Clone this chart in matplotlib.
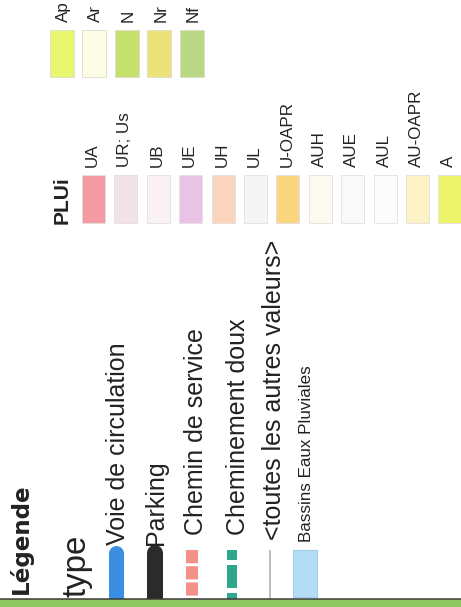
import matplotlib
matplotlib.use("Agg")
import matplotlib.pyplot as plt

plt.rcParams["font.family"] = ["Liberation Sans", "DejaVu Sans"]

# ── Data ─────────────────────────────────────────────────────────────────────
top_labels = ["Ap", "Ar", "N", "Nr", "Nf"]
top_colors = ["#e8f670", "#fdfde6", "#c5e06c", "#ece27a", "#b8d883"]

zone_labels = ["UA", "UR; Us", "UB", "UE", "UH", "UL", "U-OAPR",
               "AUH", "AUE", "AUL", "AU-OAPR", "A"]
zone_colors = ["#f39aa2", "#f1e3e7", "#faf2f2", "#e8c3e6", "#fbd5bd", "#f5f5f8",
               "#fcd67e", "#fcf9ee", "#f9f9f9", "#fcfcfc", "#fdf2c6", "#eef46a"]

type_labels = ["Voie de circulation", "Parking", "Chemin de service",
               "Cheminement doux", "<toutes les autres valeurs>"]
type_colors = ["#3b8fe2", "#2b2b2b", "#f4928a", "#2ea88a", "#a8a8a8"]
type_widths = [15, 16, 12, 10, 1.5]          # px
type_styles = ["-", "-", (0, (1.1, 0.25)), (0, (1.0, 0.5, 2.3, 0.5)), "-"]
type_caps = ["round", "round", "butt", "butt", "butt"]

basin_label = "Bassins Eaux Pluviales"
basin_color = "#b5dcf5"

PX = 72 / 100  # px -> pt at dpi 100
TXT = "#222222"

fig = plt.figure(figsize=(4.61, 6.07), dpi=100, facecolor="white")
ax = fig.add_axes([0, 0, 1, 1])
ax.set_xlim(0, 461)
ax.set_ylim(607, 0)
ax.axis("off")


def vtext(x, y, s, size, weight="normal", family=None):
    ax.text(x, y, s, rotation=90, rotation_mode="anchor", ha="left",
            va="baseline", fontsize=size, fontweight=weight, color=TXT,
            family=family, clip_on=True)


# ── PLUi zones ───────────────────────────────────────────────────────────────
step = 32.4
top_x = [62 + step * i for i in range(len(top_labels))]
ax.bar(top_x, 47, bottom=30, width=24, color=top_colors,
       edgecolor="#dcdcd0", linewidth=0.6)
for i, lab in enumerate(top_labels):
    vtext(68 + step * i, 22, lab, 17 * PX)

vtext(68, 224, "PLUi", 21 * PX, weight="bold")

zone_x = [93.5 + step * i for i in range(len(zone_labels))]
ax.bar(zone_x, 48, bottom=175, width=23, color=zone_colors,
       edgecolor="#e4e0e0", linewidth=0.6)
for i, lab in enumerate(zone_labels):
    vtext(97 + step * i, 167, lab, 17 * PX)

# ── type ─────────────────────────────────────────────────────────────────────
vtext(28, 594, "Légende", 23 * PX, weight="bold", family=["DejaVu Sans"])
vtext(85, 597, "type", 33 * PX)

line_x = [115.5, 155, 191.5, 232, 270]
line_top = [552.5, 553, 550, 550, 550]
text_base = [125, 163, 203, 245, 281]
text_start = [545, 545, 535, 535, 540]
for i, lab in enumerate(type_labels):
    ax.plot([line_x[i], line_x[i]], [line_top[i], 600], color=type_colors[i],
            lw=type_widths[i] * PX, ls=type_styles[i],
            solid_capstyle=type_caps[i], dash_capstyle="butt", zorder=2)
    vtext(text_base[i], text_start[i], lab, 25 * PX)

ax.bar([305], 47, bottom=550, width=24, color=basin_color,
       edgecolor="#9fcdee", linewidth=0.8, zorder=2)
vtext(311, 542, basin_label, 17 * PX)

# ── bottom edge ──────────────────────────────────────────────────────────────
ax.bar([230.5], 9, bottom=599, width=461, color="#8fc760", zorder=3)
ax.plot([0, 461], [598.5, 598.5], color="#3a3a3a", lw=1.5 * PX, zorder=4)

fig.savefig("out.png", dpi=100, facecolor="white")
